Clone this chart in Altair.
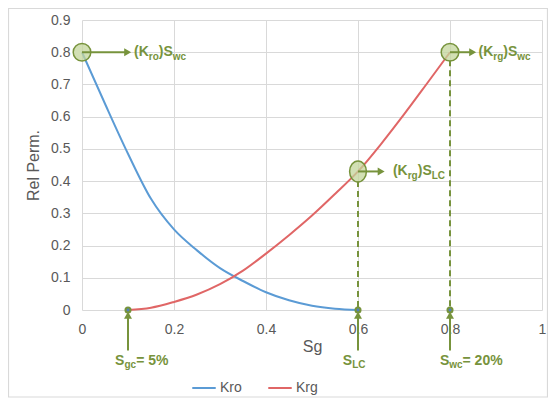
import altair as alt
import pandas as pd

# ---------------- data ----------------
sg_kro = [0.0, 0.05, 0.1, 0.15, 0.2, 0.25, 0.3, 0.35, 0.4, 0.45, 0.5, 0.55, 0.6]
kro = [0.80, 0.64, 0.485, 0.345, 0.25, 0.185, 0.13, 0.09, 0.055, 0.03, 0.013, 0.004, 0.0]
sg_krg = [0.1, 0.15, 0.2, 0.25, 0.3, 0.35, 0.4, 0.45, 0.5, 0.55, 0.6, 0.65, 0.7, 0.75, 0.8]
krg = [0.0, 0.007, 0.025, 0.048, 0.08, 0.122, 0.175, 0.232, 0.293, 0.36, 0.43, 0.515, 0.607, 0.703, 0.80]
series_names = ["Kro", "Krg"]
series_colors = ["#5b9bd5", "#e06666"]

x_ticks = [0, 0.2, 0.4, 0.6, 0.8, 1.0]
y_ticks = [0, 0.1, 0.2, 0.3, 0.4, 0.5, 0.6, 0.7, 0.8, 0.9]

# highlighted points
circle_sg = [0.0, 0.8]
circle_k = [0.8, 0.8]
slc_sg = [0.6]
slc_k = [0.43]
base_sg = [0.1, 0.6, 0.8]
base_k = [0.0, 0.0, 0.0]

# annotation labels: list of (text, is_subscript) parts, anchor x, anchor y
labels = [
    ([("(K", 0), ("ro", 1), (")", 0), ("S", 0), ("wc", 1)], 0.113, 0.8),
    ([("(K", 0), ("rg", 1), (")", 0), ("S", 0), ("wc", 1)], 0.862, 0.8),
    ([("(K", 0), ("rg", 1), (")", 0), ("S", 0), ("LC", 1)], 0.676, 0.43),
    ([("S", 0), ("gc", 1), ("= 5%", 0)], 0.072, -0.157),
    ([("S", 0), ("LC", 1)], 0.567, -0.157),
    ([("S", 0), ("wc", 1), ("= 20%", 0)], 0.778, -0.157),
]

# horizontal arrows (start x, tip x, y)
harrow_x = [0.0, 0.8, 0.6]
harrow_tip = [0.108, 0.858, 0.659]
harrow_y = [0.8, 0.8, 0.43]
# vertical dashed guides (x, top y)
dash_x = [0.6, 0.8]
dash_top = [0.40, 0.775]
# vertical arrows from the labels up to the base points
varrow_x = [0.1, 0.6, 0.8]
varrow_bottom = -0.126
varrow_tip = -0.004

# ---------------- layout helpers ----------------
W, H = 460, 290
PXX = W / 1.0
PXY = H / 0.9
OLIVE = "#77933c"
FILL = "#c3d69b"
GRAY = "#595959"
FONT = "Liberation Sans"

BOLD_W = {"(": 333, ")": 333, "K": 722, "S": 667, "r": 389, "o": 611, "g": 611,
          "w": 778, "c": 556, "L": 611, "C": 722, "=": 584, " ": 278, "5": 556,
          "2": 556, "0": 556, "%": 889}
MAIN_FS, SUB_FS = 14, 10

main_rows, sub_rows = [], []
for parts, x0, y0 in labels:
    cur = 0.0
    for txt, sub in parts:
        fs = SUB_FS if sub else MAIN_FS
        row = {"x": x0 + cur / PXX, "y": y0 - (4.5 / PXY if sub else 0.0), "t": txt}
        (sub_rows if sub else main_rows).append(row)
        cur += sum(BOLD_W[c] for c in txt) * fs / 1000.0

xs = alt.Scale(domain=[0, 1], nice=False)
ys = alt.Scale(domain=[0, 0.9], nice=False)
x_axis = alt.Axis(values=x_ticks, format=".1~f", title="Sg", labelPadding=12, titlePadding=2,
                  labelFlush=False)
y_axis = alt.Axis(values=y_ticks, format=".1~f", title="Rel Perm.", labelPadding=12,
                  titlePadding=9, labelFlush=False)


def X(f):
    return alt.X(f, scale=xs, axis=x_axis)


def Y(f):
    return alt.Y(f, scale=ys, axis=y_axis)


# ---------------- layers ----------------
curves = pd.DataFrame({
    "sg": sg_kro + sg_krg,
    "k": kro + krg,
    "series": ["Kro"] * len(sg_kro) + ["Krg"] * len(sg_krg),
})

lines = alt.Chart(curves).mark_line(interpolate="monotone", strokeWidth=2).encode(
    x=X("sg:Q"),
    y=Y("k:Q"),
    color=alt.Color("series:N", sort=series_names,
                    scale=alt.Scale(domain=series_names, range=series_colors),
                    legend=alt.Legend(orient="none", legendX=109, legendY=355,
                                      direction="horizontal", title=None,
                                      symbolType="stroke", symbolStrokeWidth=2,
                                      symbolSize=550, labelFontSize=14,
                                      labelColor=GRAY, labelFont=FONT,
                                      columnPadding=22, labelOffset=3)),
    detail="series:N",
)

dash_df = pd.DataFrame({"x": dash_x, "y": dash_top, "y0": [0.0] * len(dash_x)})
dashes = alt.Chart(dash_df).mark_rule(color=OLIVE, strokeWidth=2, strokeDash=[6, 4]).encode(
    x=X("x:Q"), y=Y("y:Q"), y2="y0:Q")

circ_df = pd.DataFrame({"x": circle_sg, "y": circle_k})
circles = alt.Chart(circ_df).mark_point(shape="circle", size=310, filled=True, fill=FILL,
                                        fillOpacity=0.75, stroke=OLIVE, strokeWidth=1.5,
                                        strokeOpacity=1).encode(x=X("x:Q"), y=Y("y:Q"))

slc_df = pd.DataFrame({"x": slc_sg, "y": slc_k})
ellipse = alt.Chart(slc_df).mark_point(
    shape="M -0.8 0 A 0.8 1 0 1 1 0.8 0 A 0.8 1 0 1 1 -0.8 0 Z", size=440, filled=True,
    fill=FILL, fillOpacity=0.75, stroke=OLIVE, strokeWidth=1.5, strokeOpacity=1).encode(
    x=X("x:Q"), y=Y("y:Q"))

TRI = 64
tri_r = (TRI ** 0.5) / 2
ha_df = pd.DataFrame({"x": harrow_x, "x2": [t - tri_r / PXX for t in harrow_tip],
                      "tx": [t - tri_r / PXX for t in harrow_tip], "y": harrow_y})
h_rules = alt.Chart(ha_df).mark_rule(color=OLIVE, strokeWidth=2).encode(
    x=X("x:Q"), x2="x2:Q", y=Y("y:Q"))
h_heads = alt.Chart(ha_df).mark_point(shape="triangle-right", size=TRI, filled=True,
                                      color=OLIVE, opacity=1).encode(x=X("tx:Q"), y=Y("y:Q"))

va_df = pd.DataFrame({"x": varrow_x, "y": [varrow_bottom] * 3,
                      "y2": [varrow_tip - tri_r / PXY] * 3,
                      "ty": [varrow_tip - tri_r / PXY] * 3})
v_rules = alt.Chart(va_df).mark_rule(color=OLIVE, strokeWidth=2).encode(
    x=X("x:Q"), y=Y("y:Q"), y2="y2:Q")
v_heads = alt.Chart(va_df).mark_point(shape="triangle-up", size=TRI, filled=True,
                                      color=OLIVE, opacity=1).encode(x=X("x:Q"), y=Y("ty:Q"))

base_df = pd.DataFrame({"x": base_sg, "y": base_k})
base_dots = alt.Chart(base_df).mark_point(shape="circle", size=50, filled=True,
                                          color=OLIVE, opacity=1).encode(x=X("x:Q"), y=Y("y:Q"))
base_core = alt.Chart(base_df).mark_point(shape="circle", size=8, filled=True,
                                          color="#4f81bd", opacity=1).encode(x=X("x:Q"), y=Y("y:Q"))

main_txt = alt.Chart(pd.DataFrame(main_rows)).mark_text(
    align="left", baseline="middle", font=FONT, fontWeight="bold", fontSize=MAIN_FS,
    color=OLIVE).encode(x=X("x:Q"), y=Y("y:Q"), text="t:N")
sub_txt = alt.Chart(pd.DataFrame(sub_rows)).mark_text(
    align="left", baseline="middle", font=FONT, fontWeight="bold", fontSize=SUB_FS,
    color=OLIVE).encode(x=X("x:Q"), y=Y("y:Q"), text="t:N")

frame = alt.Chart(pd.DataFrame({"a": [0]})).mark_rect(
    fill="white", fillOpacity=0, stroke="#d9d9d9", strokeWidth=1.2).encode(
    x=alt.value(-73.5), x2=alt.value(465.5), y=alt.value(-11.5), y2=alt.value(377))

chart = alt.layer(
    lines, dashes, circles, ellipse, h_rules, h_heads, v_rules, v_heads,
    base_dots, base_core, main_txt, sub_txt, frame,
).properties(
    width=W, height=H,
    autosize=alt.AutoSizeParams(type="none"),
    padding={"left": 74, "top": 12, "right": 6, "bottom": 90},
).configure_axis(
    labelFont=FONT, labelFontSize=14, labelColor=GRAY,
    titleFont=FONT, titleFontSize=16, titleColor=GRAY, titleFontWeight="normal",
    grid=True, gridColor="#d9d9d9", gridWidth=1, domain=False, ticks=False,
).configure_view(stroke=None)

chart.save("out.html", embed_options={"renderer": "svg", "actions": False})
